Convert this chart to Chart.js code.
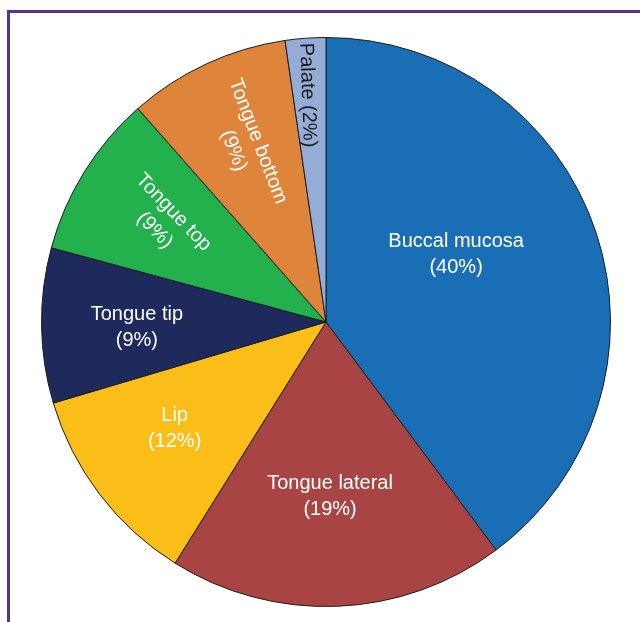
<!DOCTYPE html>
<html>
<head>
<meta charset="utf-8">
<script src="https://cdn.jsdelivr.net/npm/chart.js@4/dist/chart.umd.min.js"></script>
<style>
  html, body { margin: 0; padding: 0; background: #ffffff; overflow: hidden; }
  #wrap { position: relative; width: 640px; height: 622px; }
  #frame { position: absolute; left: 7px; top: 10px; width: 700px; height: 700px;
           border-left: 3px solid #5a2d98; border-top: 3px solid #5a2d98; box-sizing: border-box; }
  canvas { position: absolute; left: 0; top: 0; }
</style>
</head>
<body>
<div id="wrap">
  <div id="frame"></div>
  <canvas id="c" width="640" height="622"></canvas>
</div>
<script>
// Data
const categories = ["Buccal mucosa", "Tongue lateral", "Lip", "Tongue tip", "Tongue top", "Tongue bottom", "Palate"];
const shares = [39.8, 19.1, 11.5, 8.8, 9.3, 9.2, 2.3];
const percentLabels = ["40%", "19%", "12%", "9%", "9%", "9%", "2%"];

// Styles
const sliceColors = ["#1a6eb6", "#a84544", "#fbbd18", "#1e2a5c", "#23b14d", "#de843b", "#94acd6"];
const textColors = ["#ffffff", "#ffffff", "#ffffff", "#ffffff", "#ffffff", "#ffffff", "#1a1a1a"];
// label placement: angle offset (deg) from slice mid, radial fraction, rotation (deg), single-line?
const labelAngleOffset = [-9, 1, 2.2, -0.8, 0, 0.3, -0.5];
const labelRadiusFrac = [0.515, 0.612, 0.65, 0.665, 0.67, 0.68, 0.80];
const labelRotation = [0, 0, 0, 0, 46, 69, 88];
const labelSingleLine = [false, false, false, false, false, false, true];

const labelPlugin = {
  id: 'sliceLabels',
  afterDatasetsDraw(chart) {
    const ctx = chart.ctx;
    const meta = chart.getDatasetMeta(0);
    meta.data.forEach((arc, i) => {
      const p = arc.getProps(['x', 'y', 'startAngle', 'endAngle', 'outerRadius'], true);
      const mid = (p.startAngle + p.endAngle) / 2 + labelAngleOffset[i] * Math.PI / 180;
      const r = p.outerRadius * labelRadiusFrac[i];
      const x = p.x + Math.cos(mid) * r;
      const y = p.y + Math.sin(mid) * r;
      ctx.save();
      ctx.translate(x, y);
      ctx.rotate(labelRotation[i] * Math.PI / 180);
      ctx.fillStyle = textColors[i];
      ctx.font = '20px "Liberation Sans", Arial, sans-serif';
      ctx.textAlign = 'center';
      ctx.textBaseline = 'middle';
      if (labelSingleLine[i]) {
        ctx.fillText(categories[i] + ' (' + percentLabels[i] + ')', 0, 0);
      } else {
        ctx.fillText(categories[i], 0, -13);
        ctx.fillText('(' + percentLabels[i] + ')', 0, 13);
      }
      ctx.restore();
    });
  }
};

new Chart(document.getElementById('c'), {
  type: 'pie',
  data: {
    labels: categories,
    datasets: [{
      data: shares,
      backgroundColor: sliceColors,
      borderColor: '#1c1c1c',
      borderWidth: 1
    }]
  },
  options: {
    responsive: false,
    animation: false,
    layout: { padding: { left: 41, right: 29, top: 37, bottom: 15 } },
    plugins: { legend: { display: false }, tooltip: { enabled: false } }
  },
  plugins: [labelPlugin]
});
</script>
</body>
</html>
